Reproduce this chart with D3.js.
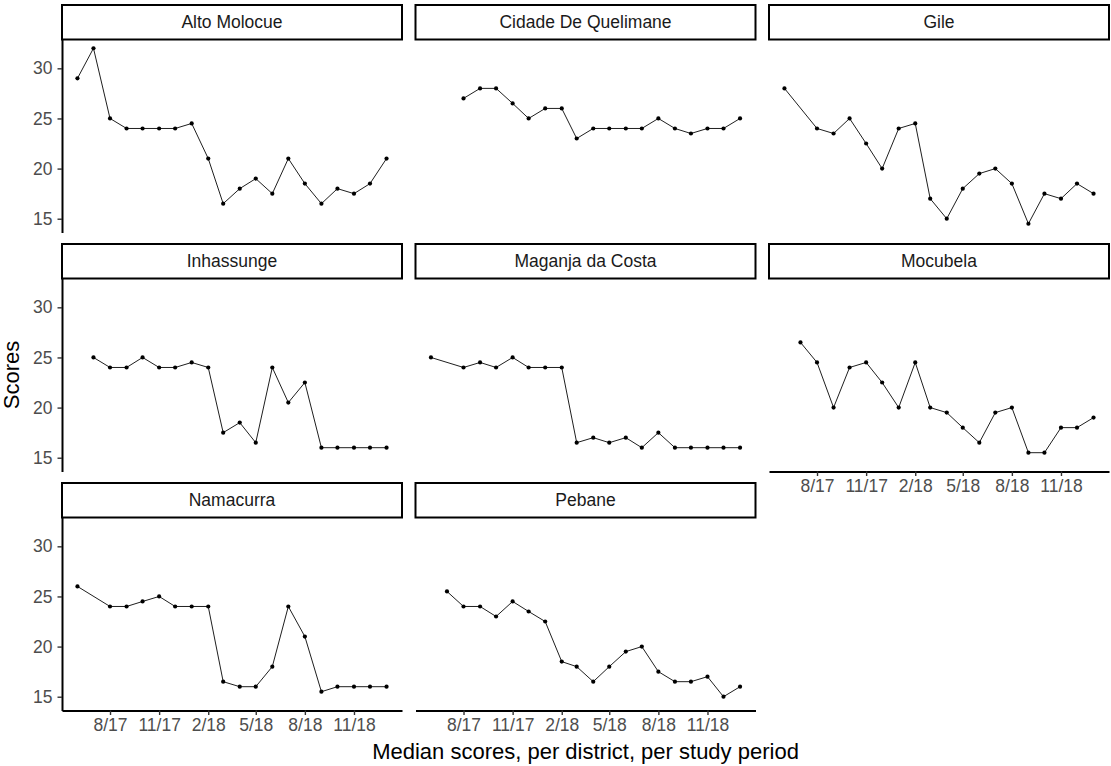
<!DOCTYPE html>
<html>
<head>
<meta charset="utf-8">
<script src="https://cdn.jsdelivr.net/npm/d3@7"></script>
<style>
  html, body { margin: 0; padding: 0; background: #fff; }
  svg { display: block; font-family: "Liberation Sans", Arial, sans-serif; }
</style>
</head>
<body>
<svg id="chart" width="1111" height="766"></svg>
<script>
// Study months (first day of each month)
const months = ["2017-06","2017-07","2017-08","2017-09","2017-10","2017-11","2017-12",
  "2018-01","2018-02","2018-03","2018-04","2018-05","2018-06","2018-07","2018-08",
  "2018-09","2018-10","2018-11","2018-12","2019-01"];

// District names, in facet order
const districts = ["Alto Molocue","Cidade De Quelimane","Gile","Inhassunge",
  "Maganja da Costa","Mocubela","Namacurra","Pebane"];

// Median score per month (null = no data that month)
const altoMolocue   = [29,32,25,24,24,24,24,24.5,21,16.5,18,19,17.5,21,18.5,16.5,18,17.5,18.5,21];
const cidadeQuelim  = [null,null,27,28,28,26.5,25,26,26,23,24,24,24,24,25,24,23.5,24,24,25];
const gile          = [28,null,24,23.5,25,22.5,20,24,24.5,17,15,18,19.5,20,18.5,14.5,17.5,17,18.5,17.5];
const inhassunge    = [null,25,24,24,25,24,24,24.5,24,17.5,18.5,16.5,24,20.5,22.5,16,16,16,16,16];
const maganjaCosta  = [25,null,24,24.5,24,25,24,24,24,16.5,17,16.5,17,16,17.5,16,16,16,16,16];
const mocubela      = [null,26.5,24.5,20,24,24.5,22.5,20,24.5,20,19.5,18,16.5,19.5,20,15.5,15.5,18,18,19];
const namacurra     = [26,null,24,24,24.5,25,24,24,24,16.5,16,16,18,24,21,15.5,16,16,16,16];
const pebane        = [null,25.5,24,24,23,24.5,23.5,22.5,18.5,18,16.5,18,19.5,20,17.5,16.5,16.5,17,15,16];

const seriesValues = [altoMolocue, cidadeQuelim, gile, inhassunge, maganjaCosta, mocubela, namacurra, pebane];

// Axis ticks
const yTicks = [15, 20, 25, 30];
const xTickMonths = ["2017-08","2017-11","2018-02","2018-05","2018-08","2018-11"];

const parseMonth = d3.timeParse("%Y-%m");
const dates = months.map(parseMonth);

// Facet geometry
const nCol = 3;
const panelLeft = 62, panelW = 340, colPitch = 353.5;
const stripTop0 = 5, stripH = 34.5, panelH = 193, rowPitch = 239;

// Scales shared by all facets (5% expansion on each side)
const tMin = d3.min(dates), tMax = d3.max(dates);
const tPad = (tMax - tMin) * 0.05;
const x = d3.scaleTime()
  .domain([new Date(+tMin - tPad), new Date(+tMax + tPad)])
  .range([0, panelW]);

const allVals = seriesValues.flat().filter(v => v != null);
const vMin = d3.min(allVals), vMax = d3.max(allVals);
const vPad = (vMax - vMin) * 0.05;
const y = d3.scaleLinear()
  .domain([vMin - vPad, vMax + vPad])
  .range([panelH, 0]);

const svg = d3.select("#chart");

const line = d3.line()
  .x(d => x(d.date))
  .y(d => y(d.value));

const fmtMonth = d => (d.getMonth() + 1) + "/" + d3.timeFormat("%y")(d);

districts.forEach((name, i) => {
  const col = i % nCol, row = Math.floor(i / nCol);
  const left = panelLeft + col * colPitch;
  const stripTop = stripTop0 + row * rowPitch;
  const top = stripTop + stripH;

  const g = svg.append("g").attr("transform", `translate(${left},${top})`);

  const pts = seriesValues[i]
    .map((v, k) => ({ date: dates[k], value: v }))
    .filter(d => d.value != null);

  g.append("path")
    .datum(pts)
    .attr("fill", "none")
    .attr("stroke", "#1f1f1f")
    .attr("stroke-width", 1)
    .attr("d", line);

  g.selectAll("circle")
    .data(pts)
    .join("circle")
    .attr("cx", d => x(d.date))
    .attr("cy", d => y(d.value))
    .attr("r", 2.1)
    .attr("fill", "#000");

  // Y axis on the first column only
  if (col === 0) {
    const ya = g.append("g")
      .call(d3.axisLeft(y).tickValues(yTicks).tickSize(4.5).tickSizeOuter(0).tickPadding(5));
    ya.select(".domain").attr("stroke", "#000").attr("stroke-width", 2);
    ya.selectAll(".tick line").attr("stroke", "#333").attr("stroke-width", 1.4);
    ya.selectAll(".tick text")
      .attr("fill", "#4d4d4d")
      .style("font-size", "17.5px")
      .style("font-family", "'Liberation Sans', Arial, sans-serif");
  }

  // X axis on the bottom-most panel of each column
  const hasBelow = i + nCol < districts.length;
  if (!hasBelow) {
    const xa = g.append("g")
      .attr("transform", `translate(0,${panelH})`)
      .call(d3.axisBottom(x).tickValues(xTickMonths.map(parseMonth))
        .tickFormat(fmtMonth).tickSize(4.5).tickSizeOuter(0).tickPadding(4));
    xa.select(".domain").attr("stroke", "#000").attr("stroke-width", 2);
    xa.selectAll(".tick line").attr("stroke", "#333").attr("stroke-width", 1.4);
    xa.selectAll(".tick text")
      .attr("fill", "#4d4d4d")
      .style("font-size", "17.5px")
      .style("font-family", "'Liberation Sans', Arial, sans-serif");
  }

  // Facet strip
  svg.append("rect")
    .attr("x", left).attr("y", stripTop)
    .attr("width", panelW).attr("height", stripH)
    .attr("fill", "#fff")
    .attr("stroke", "#000")
    .attr("stroke-width", 2);
  svg.append("text")
    .attr("x", left + panelW / 2)
    .attr("y", stripTop + stripH / 2)
    .attr("dy", "0.35em")
    .attr("text-anchor", "middle")
    .attr("fill", "#1a1a1a")
    .style("font-size", "17.5px")
    .text(name);
});

// Axis titles
const plotLeft = panelLeft, plotRight = panelLeft + 2 * colPitch + panelW;
const plotTop = stripTop0 + stripH, plotBottom = stripTop0 + 2 * rowPitch + stripH + panelH;

svg.append("text")
  .attr("x", (plotLeft + plotRight) / 2)
  .attr("y", 759)
  .attr("text-anchor", "middle")
  .attr("fill", "#000")
  .style("font-size", "22px")
  .text("Median scores, per district, per study period");

svg.append("text")
  .attr("transform", `translate(19,${(plotTop + plotBottom) / 2}) rotate(-90)`)
  .attr("text-anchor", "middle")
  .attr("fill", "#000")
  .style("font-size", "22px")
  .text("Scores");
</script>
</body>
</html>
